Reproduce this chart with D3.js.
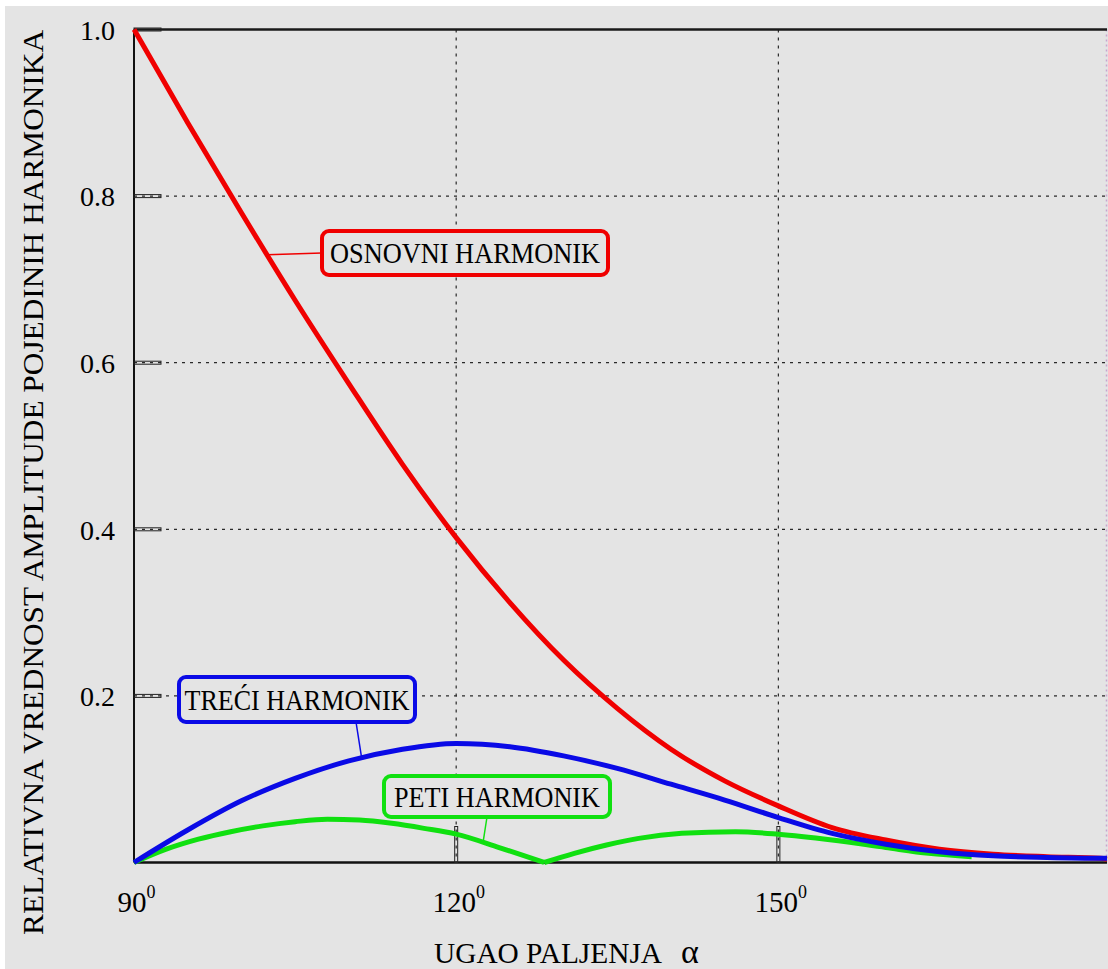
<!DOCTYPE html>
<html>
<head>
<meta charset="utf-8">
<script src="https://cdn.jsdelivr.net/npm/d3@7/dist/d3.min.js"></script>
<style>
  html, body { margin: 0; padding: 0; background: #ffffff; }
  svg { display: block; }
  svg text { font-family: "Liberation Serif", "Times New Roman", Times, serif !important; fill: #000; }
</style>
</head>
<body>
<svg id="chart" width="1108" height="969" font-family="Liberation Serif, Times New Roman, serif"></svg>
<script>
// Firing angle (degrees) for the fundamental and third harmonic curves
const angles = [90, 95, 100, 105, 110, 115, 120, 125, 130, 135, 140, 145, 150, 155, 160, 165, 170, 175, 180, 180.6];
// Relative amplitude of the fundamental
const osnovni = [1.0, 0.888, 0.78, 0.675, 0.575, 0.478, 0.39, 0.312, 0.243, 0.185, 0.136, 0.098, 0.068, 0.042, 0.027, 0.016, 0.010, 0.007, 0.005, 0.004];
// Relative amplitude of the third harmonic
const treci = [0, 0.039, 0.074, 0.101, 0.122, 0.136, 0.143, 0.139, 0.128, 0.113, 0.094, 0.075, 0.054, 0.035, 0.022, 0.013, 0.008, 0.006, 0.005, 0.005];
// Fifth harmonic, sampled separately (it touches zero near 128 degrees)
const petiAngles = [90, 93, 96, 99, 102, 105, 108, 111, 114, 117, 120, 124, 128.2, 131, 134, 137, 141, 146, 150, 155, 160, 164, 168];
const peti = [0, 0.016, 0.028, 0.037, 0.044, 0.049, 0.052, 0.051, 0.047, 0.041, 0.034, 0.018, 0, 0.011, 0.021, 0.029, 0.035, 0.037, 0.034, 0.027, 0.018, 0.011, 0.007];

const yTicks = [0.2, 0.4, 0.6, 0.8, 1.0];
const xTicks = [90, 120, 150];
const gridY = [0.2, 0.4, 0.6, 0.8];
const gridX = [120, 150];

const labelOsnovni = "OSNOVNI HARMONIK";
const labelTreci = "TREĆI HARMONIK";
const labelPeti = "PETI HARMONIK";
const yTitle = "RELATIVNA VREDNOST AMPLITUDE POJEDINIH HARMONIKA";
const xTitle = "UGAO PALJENJA";

const SERIF = "'Liberation Serif', 'Times New Roman', Times, serif";
const svg = d3.select("#chart");
const W = 1108, H = 969;
const bg = "#e4e4e4";

// page background: grey sheet with a thin white margin on top and left
svg.append("rect").attr("x", 0).attr("y", 0).attr("width", W).attr("height", H).attr("fill", "#fff");
svg.append("rect").attr("x", 5).attr("y", 6).attr("width", W - 5).attr("height", H - 6).attr("fill", bg);

const x = d3.scaleLinear().domain([90, 180.6]).range([134, 1107]);
const y = d3.scaleLinear().domain([0, 1]).range([862.5, 29.5]);

const plotL = x(90), plotR = x(180.6), plotT = y(1), plotB = y(0);

// dashed grid
const grid = svg.append("g").attr("stroke", "#2a2a2a").attr("stroke-width", 1.2).attr("stroke-dasharray", "3,5");
grid.selectAll("line.gy").data(gridY).join("line")
  .attr("x1", plotL).attr("x2", plotR)
  .attr("y1", d => y(d)).attr("y2", d => y(d));
grid.selectAll("line.gx").data(gridX).join("line")
  .attr("y1", plotT).attr("y2", plotB)
  .attr("x1", d => x(d)).attr("x2", d => x(d));

// right frame edge (faint dotted)
svg.append("line").attr("x1", plotR - 0.5).attr("x2", plotR - 0.5).attr("y1", plotT).attr("y2", plotB)
  .attr("stroke", "#c9a3cf").attr("stroke-width", 1.5).attr("stroke-dasharray", "2,3");

// top frame edge
svg.append("line").attr("x1", plotL).attr("x2", plotR).attr("y1", plotT).attr("y2", plotT)
  .attr("stroke", "#1a1a1a").attr("stroke-width", 2.5);

// axes built with d3 axis generators, then restyled
const yAxis = svg.append("g").attr("transform", `translate(${plotL},0)`)
  .call(d3.axisLeft(y).tickValues(yTicks).tickSize(0).tickFormat(d3.format(".1f")));
yAxis.attr("font-family", null).attr("font-size", null);
yAxis.select(".domain").attr("stroke", "#111").attr("stroke-width", 2)
  .attr("d", `M0,${plotT}V${plotB}`);
yAxis.selectAll(".tick text")
  .attr("x", -19).attr("dy", "0.35em")
  .style("font-size", "28px").style("font-family", SERIF).attr("fill", "#000");

// small double tick marks on the y axis
svg.append("g").selectAll("rect").data(yTicks).join("rect")
  .attr("x", plotL).attr("y", d => y(d) - 1.5).attr("width", 27).attr("height", 3)
  .attr("fill", "none").attr("stroke", "#222").attr("stroke-width", 1);

const xAxis = svg.append("g").attr("transform", `translate(0,${plotB})`)
  .call(d3.axisBottom(x).tickValues(xTicks).tickSize(0).tickFormat(""));
xAxis.attr("font-family", null).attr("font-size", null);
xAxis.select(".domain").attr("stroke", "#111").attr("stroke-width", 2.5)
  .attr("d", `M${plotL},0H${plotR}`);

// degree-style tick labels: number with a raised 0
const xl = xAxis.selectAll(".tick").append("text")
  .attr("x", 2).attr("y", 49).attr("text-anchor", "middle")
  .style("font-size", "29px").style("font-family", SERIF).attr("fill", "#000");
xl.append("tspan").text(d => d);
xl.append("tspan").attr("dy", -14).style("font-size", "18px").text("0");

// vertical tick marks at the inner gridlines
svg.append("g").selectAll("rect").data(gridX).join("rect")
  .attr("x", d => x(d) - 1.5).attr("y", plotB - 36).attr("width", 3).attr("height", 36)
  .attr("fill", "none").attr("stroke", "#222").attr("stroke-width", 1);

// curves
const line = d3.line().x(d => x(d[0])).y(d => y(d[1])).curve(d3.curveMonotoneX);
const redPts = angles.map((a, i) => [a, osnovni[i]]);
const bluePts = angles.map((a, i) => [a, treci[i]]);
const greenPts = petiAngles.map((a, i) => [a, peti[i]]);
// keep the cusp of the fifth harmonic sharp: draw it as two smooth pieces
const cusp = peti.indexOf(0, 1);
const greenPath = line(greenPts.slice(0, cusp + 1)) + line(greenPts.slice(cusp));

const RED = "#f00000", BLUE = "#0a0ae6", GREEN = "#10e010";

svg.append("path").attr("d", greenPath).attr("fill", "none").attr("stroke", GREEN).attr("stroke-width", 5).attr("stroke-linejoin", "round");
svg.append("path").attr("d", line(redPts)).attr("fill", "none").attr("stroke", RED).attr("stroke-width", 5).attr("stroke-linejoin", "round");
svg.append("path").attr("d", line(bluePts)).attr("fill", "none").attr("stroke", BLUE).attr("stroke-width", 5).attr("stroke-linejoin", "round");

// value on a series at a given angle (linear between samples)
function valueAt(xs, ys, a) {
  const i = Math.max(1, d3.bisectLeft(xs, a));
  const t = (a - xs[i - 1]) / (xs[i] - xs[i - 1]);
  return ys[i - 1] + t * (ys[i] - ys[i - 1]);
}

// callout boxes with leader lines
function callout(text, color, box, leaderFrom, anchorAngle, xs, ys, textWidth) {
  const g = svg.append("g");
  const px = x(anchorAngle), py = y(valueAt(xs, ys, anchorAngle));
  g.append("line").attr("x1", leaderFrom[0]).attr("y1", leaderFrom[1]).attr("x2", px).attr("y2", py)
    .attr("stroke", color).attr("stroke-width", 1.5);
  g.append("rect").attr("x", box[0]).attr("y", box[1]).attr("width", box[2]).attr("height", box[3])
    .attr("rx", 7).attr("fill", bg).attr("stroke", color).attr("stroke-width", 4);
  g.append("text").attr("x", box[0] + box[2] / 2).attr("y", box[1] + box[3] / 2 + 10)
    .attr("text-anchor", "middle").style("font-size", "29px").style("font-family", SERIF)
    .attr("textLength", textWidth).attr("lengthAdjust", "spacingAndGlyphs").text(text);
}

callout(labelOsnovni, RED, [322, 231, 286, 44], [322, 253], 102.4, angles, osnovni, 270);
callout(labelTreci, BLUE, [179, 677, 236, 45], [356, 722], 111.2, angles, treci, 225);
callout(labelPeti, GREEN, [384, 776, 226, 41], [487, 817], 122.5, petiAngles, peti, 206);

// axis titles
svg.append("text").attr("transform", "translate(43,935) rotate(-90)")
  .attr("text-anchor", "start").style("font-size", "30px").style("font-family", SERIF)
  .attr("textLength", 905).attr("lengthAdjust", "spacingAndGlyphs").text(yTitle);

const xt = svg.append("text").attr("x", 434).attr("y", 963).style("font-size", "30px").style("font-family", SERIF);
xt.append("tspan").attr("textLength", 228).attr("lengthAdjust", "spacingAndGlyphs").text(xTitle);
xt.append("tspan").attr("x", 681).style("font-size", "34px").text("α");
</script>
</body>
</html>
